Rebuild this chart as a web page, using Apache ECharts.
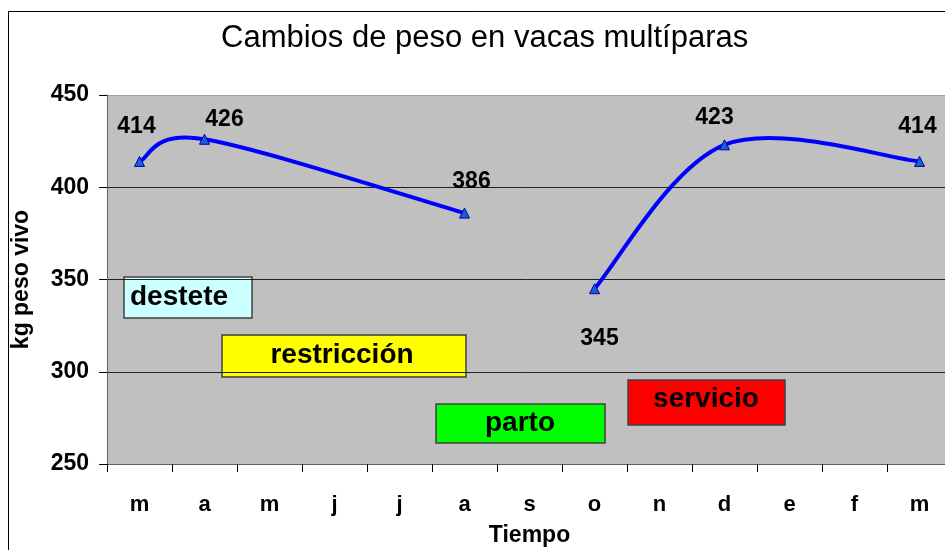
<!DOCTYPE html>
<html>
<head>
<meta charset="utf-8">
<script src="https://cdn.jsdelivr.net/npm/echarts@6/dist/echarts.min.js"></script>
<style>
  html, body { margin: 0; padding: 0; background: #fff; }
  #chart { width: 945px; height: 550px; }
</style>
</head>
<body>
<div id="chart"></div>
<script>
// meses del ciclo (eje x)
const meses = ['m', 'a', 'm', 'j', 'j', 'a', 's', 'o', 'n', 'd', 'e', 'f', 'm'];

// tramo antes del parto
const tramo1Mes = [0, 1, 5];
const tramo1Peso = [414, 426, 386];

// tramo despues del parto
const tramo2Mes = [7, 9, 12];
const tramo2Peso = [345, 423, 414];

// eje y
const pesoMin = 250;
const pesoMax = 450;
const pesoPaso = 50;

// cajas de etapas
const etapas = ['destete', 'restricción', 'parto', 'servicio'];

const FUENTE = 'Liberation Sans, Arial, sans-serif';

// posicion de cada etiqueta de dato (solo estilo)
const etiquetas1 = [
  { position: 'top', offset: [-3, -13] },
  { position: 'top', offset: [20, 2] },
  { position: 'top', offset: [7, -9] }
];
const etiquetas2 = [
  { position: 'bottom', offset: [5, 28] },
  { position: 'top', offset: [-10, -5] },
  { position: 'top', offset: [-2, -13] }
];

function armarDatos(xs, ys, etqs) {
  return xs.map(function (x, i) {
    return { value: [x, ys[i]], label: etqs[i] };
  });
}

// marcadores y etiquetas (la linea la dibuja la curva de abajo)
function serieTramo(datos) {
  return {
    type: 'line',
    data: datos,
    symbol: 'triangle',
    symbolSize: 10,
    lineStyle: { width: 0, opacity: 0 },
    itemStyle: { color: '#1a5fd8', borderColor: '#0000a0', borderWidth: 1 },
    label: {
      show: true,
      color: '#000',
      fontFamily: FUENTE,
      fontWeight: 'bold',
      fontSize: 23,
      formatter: function (p) { return p.value[1]; }
    },
    z: 6
  };
}

// curva suavizada estilo Excel (bezier con tension 1/6)
function curvaTramo(xs, ys) {
  return {
    type: 'custom',
    data: xs.map(function (x, i) { return [x, ys[i]]; }),
    z: 5,
    silent: true,
    renderItem: function (params, api) {
      if (params.dataIndex !== 0) return null;
      const pts = xs.map(function (x, i) { return api.coord([x, ys[i]]); });
      const n = pts.length;
      const trozos = [];
      for (let i = 0; i < n - 1; i++) {
        const p0 = pts[Math.max(i - 1, 0)];
        const p1 = pts[i];
        const p2 = pts[i + 1];
        const p3 = pts[Math.min(i + 2, n - 1)];
        trozos.push({
          type: 'bezierCurve',
          shape: {
            x1: p1[0], y1: p1[1],
            cpx1: p1[0] + (p2[0] - p0[0]) / 6, cpy1: p1[1] + (p2[1] - p0[1]) / 6,
            cpx2: p2[0] - (p3[0] - p1[0]) / 6, cpy2: p2[1] - (p3[1] - p1[1]) / 6,
            x2: p2[0], y2: p2[1]
          },
          style: { fill: null, stroke: '#0000ff', lineWidth: 4 }
        });
      }
      return { type: 'group', children: trozos };
    }
  };
}

function caja(x, y, w, h, fondo, texto, alinear, tx, ty) {
  return {
    type: 'group',
    z: 20,
    children: [
      {
        type: 'rect',
        shape: { x: x, y: y, width: w, height: h },
        style: { fill: fondo, stroke: '#404040', lineWidth: 1.5 }
      },
      {
        type: 'text',
        x: tx, y: ty,
        style: {
          text: texto,
          fill: '#000',
          font: 'bold 28px ' + FUENTE,
          textAlign: alinear,
          textVerticalAlign: 'middle'
        }
      }
    ]
  };
}

const chart = echarts.init(document.getElementById('chart'), null, { renderer: 'canvas' });

const option = {
  backgroundColor: '#fff',
  animation: false,
  title: {
    text: 'Cambios de peso en vacas multíparas',
    left: 216,
    top: 18,
    textStyle: { fontFamily: FUENTE, fontWeight: 'normal', fontSize: 31, color: '#000' }
  },
  grid: {
    left: 107, right: -7, top: 95, bottom: 86,
    outerBoundsMode: 'none',
    containLabel: false,
    show: true,
    backgroundColor: '#c0c0c0',
    borderWidth: 0
  },
  xAxis: {
    type: 'category',
    data: meses,
    boundaryGap: true,
    name: 'Tiempo',
    nameLocation: 'middle',
    nameGap: 60,
    nameTextStyle: { fontFamily: FUENTE, fontWeight: 'bold', fontSize: 23, color: '#000' },
    axisLine: { lineStyle: { color: '#606060', width: 1 } },
    axisTick: { show: true, length: 8, inside: false, interval: 0, lineStyle: { color: '#000' } },
    axisLabel: { fontFamily: FUENTE, fontWeight: 'bold', fontSize: 22, color: '#000', margin: 30, interval: 0 },
    splitLine: { show: false }
  },
  yAxis: {
    type: 'value',
    min: pesoMin,
    max: pesoMax,
    interval: pesoPaso,
    name: 'kg peso vivo',
    nameLocation: 'middle',
    nameGap: 74,
    nameRotate: 90,
    nameTextStyle: { fontFamily: FUENTE, fontWeight: 'bold', fontSize: 23, color: '#000' },
    axisLine: { show: true, lineStyle: { color: '#606060', width: 1 } },
    axisTick: { show: true, length: 8, inside: false, lineStyle: { color: '#000' } },
    axisLabel: { fontFamily: FUENTE, fontWeight: 'bold', fontSize: 23, color: '#000', margin: 18 },
    splitLine: { show: true, lineStyle: { color: ['#606060', '#202020', '#202020', '#202020', '#a0a0a0'], width: 1 } }
  },
  series: [
    curvaTramo(tramo1Mes, tramo1Peso),
    curvaTramo(tramo2Mes, tramo2Peso),
    serieTramo(armarDatos(tramo1Mes, tramo1Peso, etiquetas1)),
    serieTramo(armarDatos(tramo2Mes, tramo2Peso, etiquetas2))
  ],
  graphic: [
    {
      type: 'rect',
      z: 0,
      shape: { x: 8.5, y: 11.5, width: 980, height: 600 },
      style: { fill: 'none', stroke: '#000', lineWidth: 1 }
    },
    caja(124, 277, 128, 41, '#ccffff', etapas[0], 'left', 130, 297),
    caja(222, 335, 244, 42, '#ffff00', etapas[1], 'center', 342, 355),
    caja(436, 404, 169, 39, '#00ff00', etapas[2], 'center', 520, 423),
    caja(628, 380, 157, 45, '#ff0000', etapas[3], 'center', 706, 399)
  ]
};

chart.setOption(option);
</script>
</body>
</html>
